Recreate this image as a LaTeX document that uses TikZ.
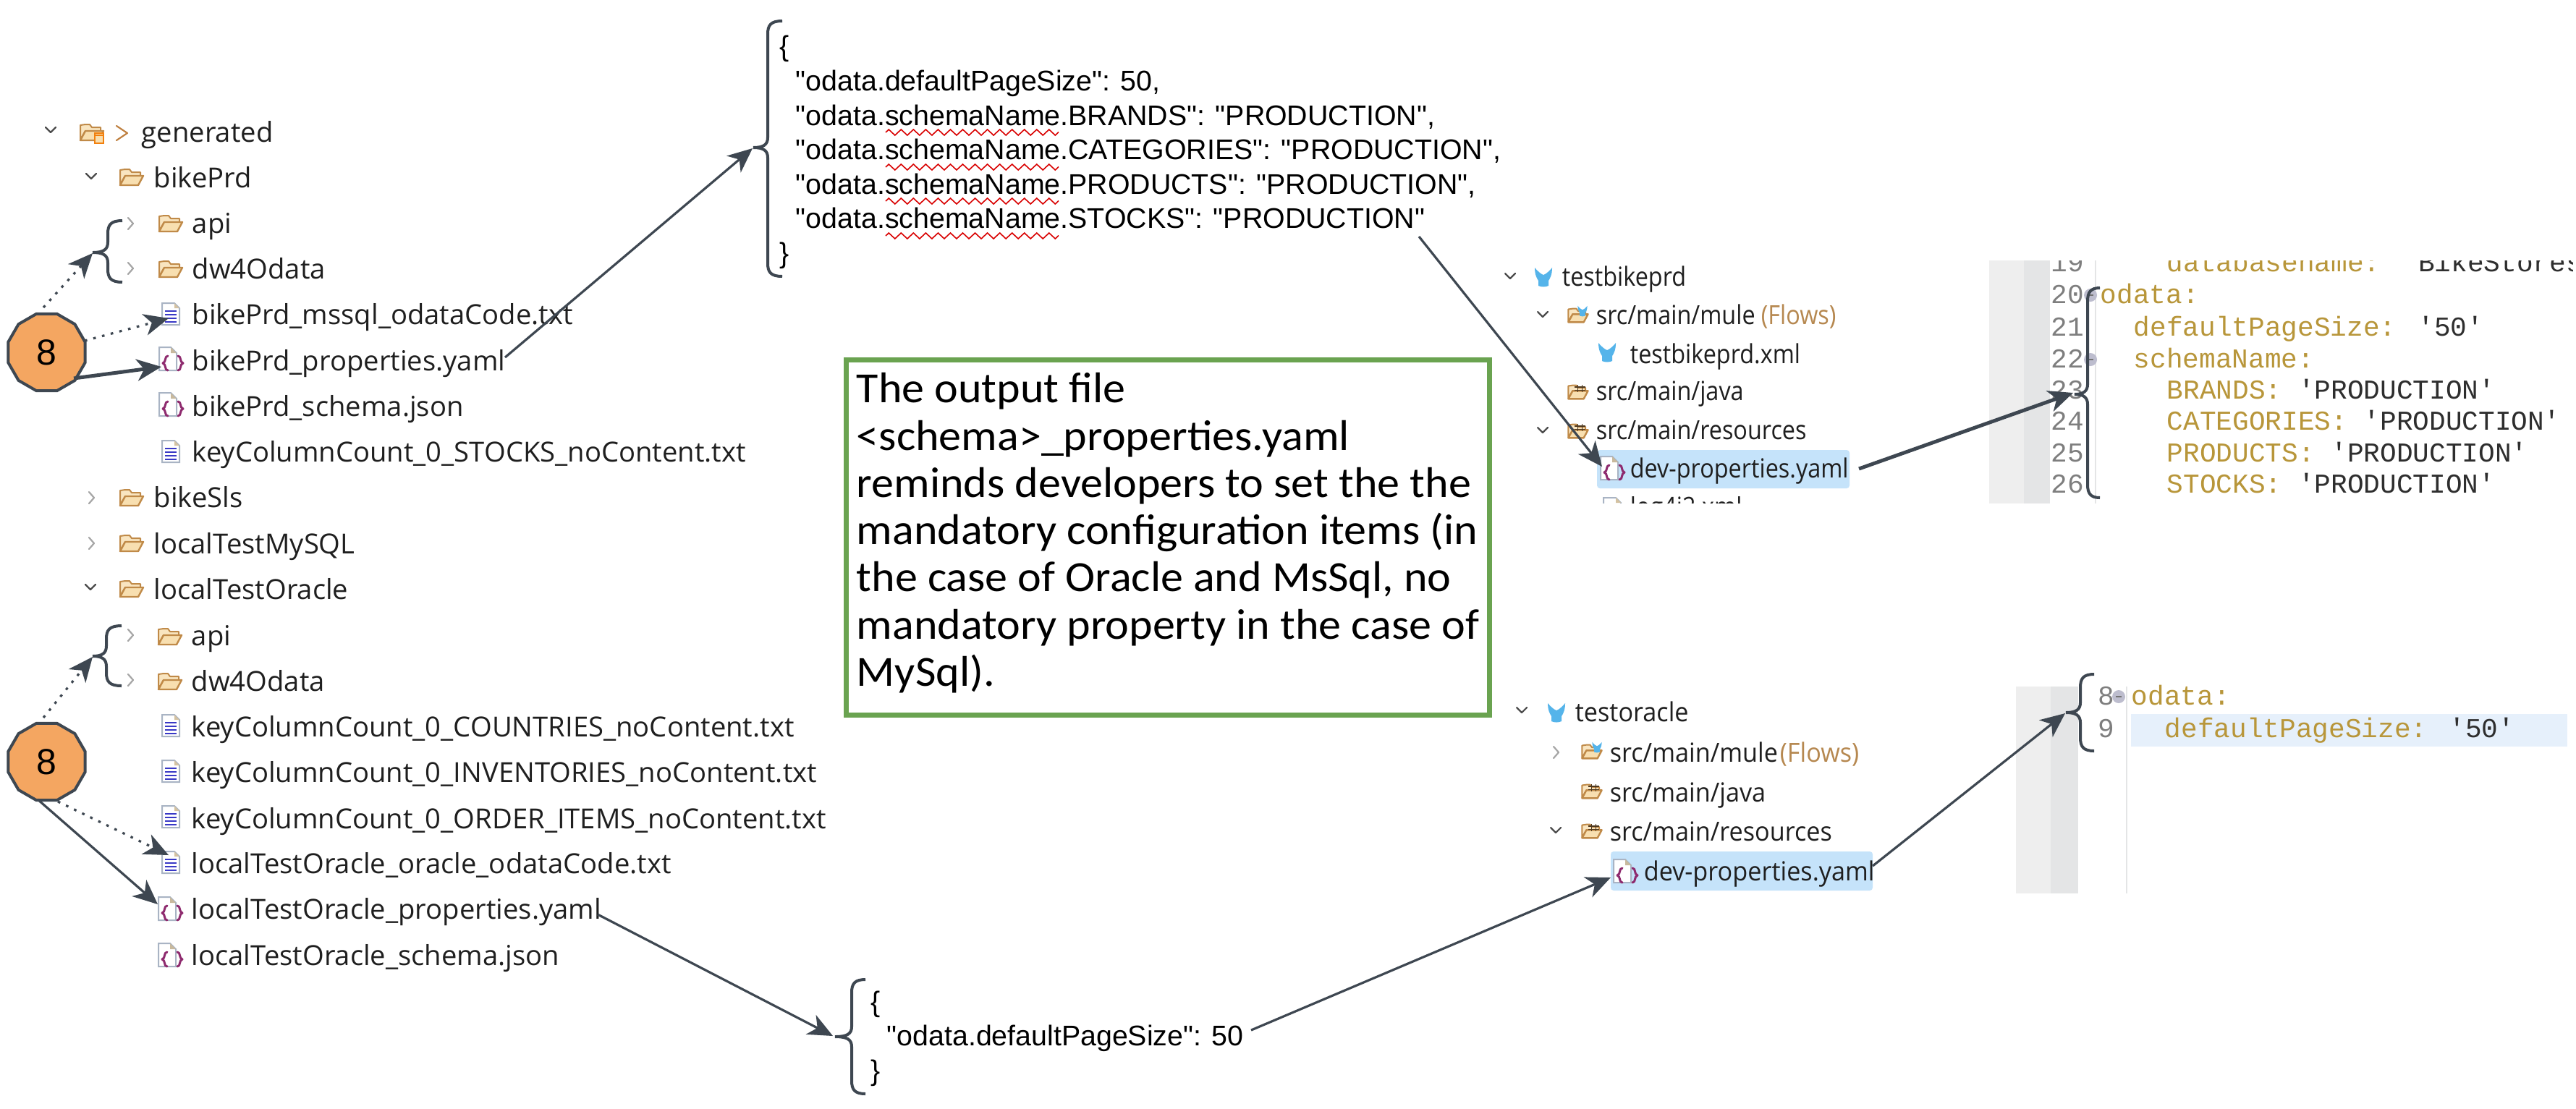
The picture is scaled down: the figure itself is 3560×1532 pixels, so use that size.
\documentclass[tikz,border=0pt]{standalone}
\usepackage{fontspec}
\usetikzlibrary{arrows.meta,shapes.geometric,decorations.pathmorphing}
\setmainfont{Liberation Sans}
\newfontfamily\jsonfont{Liberation Sans}
\newfontfamily\treefont{Open Sans}
\newfontfamily\treefontA[FakeStretch=0.89]{Open Sans}
\newfontfamily\treefontB[FakeStretch=0.94]{Open Sans}
\newfontfamily\notefont[FakeStretch=1.045]{Carlito}
\newfontfamily\codefont{Liberation Mono}
\definecolor{ink}{HTML}{3E4751}
\definecolor{orangefill}{HTML}{F4A661}
\definecolor{boxgreen}{HTML}{6AA350}
\definecolor{keygold}{HTML}{B8963A}
\definecolor{valdark}{HTML}{2E2E2E}
\definecolor{numgray}{HTML}{7E7E7E}
\definecolor{folderedge}{HTML}{C08A48}
\definecolor{folderfill}{HTML}{F8DFB0}
\definecolor{muleblue}{HTML}{55B4EA}
\definecolor{selblue}{HTML}{C5E3FA}
\definecolor{rowblue}{HTML}{E6F0FB}
\definecolor{barA}{HTML}{EEEEEE}
\definecolor{barB}{HTML}{E4E5E6}
\definecolor{jsonpurple}{HTML}{8E2A6E}
\definecolor{docedge}{HTML}{A9B4C4}
\tikzset{
  x=0.25pt,y=-0.25pt,
  treetext/.style={anchor=base west,inner sep=0pt,font=\treefont\fontsize{9.55pt}{11pt}\selectfont,text=black!88},
  uppertext/.style={anchor=base west,inner sep=0pt,font=\treefontA\fontsize{9.1pt}{11pt}\selectfont,text=black!88},
  lowertext/.style={anchor=base west,inner sep=0pt,font=\treefontB\fontsize{9.1pt}{11pt}\selectfont,text=black!88},
  jsontext/.style={anchor=base west,inner sep=0pt,font=\jsonfont\fontsize{9.83pt}{12pt}\selectfont,text=black},
  keytext/.style={anchor=base west,inner sep=0pt,font=\codefont\fontsize{9.44pt}{11pt}\selectfont,text=keygold},
  numtext/.style={anchor=base west,inner sep=0pt,font=\codefont\fontsize{9.44pt}{11pt}\selectfont,text=numgray},
  flowtextA/.style={uppertext,text=folderedge!85!gray},
  flowtextB/.style={lowertext,text=folderedge!85!gray},
  notebox/.style={draw=boxgreen,line width=1.75pt,fill=white},
  stepcircle/.style={regular polygon,regular polygon sides=12,minimum size=27.5pt,inner sep=0pt,draw=ink,line width=1pt,fill=orangefill,font=\fontsize{12.5pt}{14pt}\selectfont},
  conn/.style={draw=ink,line width=0.8pt,-{Stealth[length=8.5pt,width=7.5pt,inset=2.5pt]}},
  connthick/.style={conn,line width=1.25pt},
  conndot/.style={conn,dash pattern=on 0.9pt off 2.2pt,-{Stealth[length=8.5pt,width=7.5pt,inset=2.5pt,sep=0pt]}},
  bracepath/.style={draw=ink,line width=1pt,fill=none},
  chev/.style={line width=0.55pt,line cap=round,line join=round},
  pics/folder/.style={code={
    \draw[folderedge,line width=0.5pt,fill=folderfill!80!white,line join=round] (-16,10) -- (-16,-10) -- (-9,-11) -- (-3,-11) -- (0,-7) -- (12,-7) -- (12,-2) -- (-9,-2) -- cycle;
    \draw[folderedge,line width=0.6pt,fill=folderfill,line join=round] (-16,11) -- (-9,-2) -- (16,-2) -- (9,11) -- cycle;
  }},
  pics/docicon/.style={code={
    \draw[docedge,line width=0.5pt,fill=white] (-12,-15) -- (5,-15) -- (12,-8) -- (12,15) -- (-12,15) -- cycle;
    \fill[folderfill!70!gray] (5,-15) -- (12,-8) -- (5,-8) -- cycle;
    \foreach \ly in {-4,1,6,11}{\draw[blue!55!gray,line width=0.45pt] (-8,\ly) -- (8,\ly);}
  }},
  pics/jsonicon/.style={code={
    \draw[docedge,line width=0.5pt,fill=white] (-16,-17) -- (0,-17) -- (8,-9) -- (8,15) -- (-16,15) -- cycle;
    \fill[folderfill!60!gray] (0,-17) -- (8,-9) -- (0,-9) -- cycle;
    \draw[jsonpurple,line width=0.75pt,line cap=round,line join=round]
      (-4,-5) .. controls (-9,-5) and (-6,4) .. (-11,5) .. controls (-6,6) and (-9,15) .. (-4,15);
    \draw[jsonpurple,line width=0.75pt,line cap=round,line join=round]
      (10,-5) .. controls (15,-5) and (12,4) .. (17,5) .. controls (12,6) and (15,15) .. (10,15);
  }},
  pics/muleicon/.style={code={
    \fill[muleblue] (-12,-13) .. controls (-7,-7) and (-3,-4) .. (0,-3) .. controls (3,-4) and (7,-7) .. (12,-13)
      .. controls (12,-3) and (9,2) .. (7,5) -- (7,12) .. controls (3,14) and (-3,14) .. (-7,12) -- (-7,5) .. controls (-9,2) and (-12,-3) .. (-12,-13) -- cycle;
  }},
  pics/pkgmark/.style={code={
    \draw[black!60!folderedge,line width=0.45pt] (-3,-12) -- (-3,0) (4,-12) -- (4,0) (-8,-8) -- (9,-8) (-8,-3) -- (9,-3);
  }},
  pics/dbmark/.style={code={
    \draw[orange!80!brown,line width=0.5pt,fill=folderfill] (-6,-6) rectangle (6,8);
    \draw[orange!80!brown,line width=0.5pt] (-6,-3) -- (6,-3);
  }},
  pics/foldmark/.style={code={
    \fill[blue!15!gray!45] (0,0) circle (9);
    \draw[black!55,line width=0.35pt] (-4,0) -- (4,0);
  }},
}
\newcommand{\chevdown}[3]{\draw[chev,#3] (#1-7,#2-4) -- (#1,#2+3) -- (#1+7,#2-4);}
\newcommand{\chevright}[3]{\draw[chev,#3] (#1-3,#2-8) -- (#1+4,#2) -- (#1-3,#2+8);}
% top x, top y, spine x, apex x, apex y, bottom y
\newcommand{\openbrace}[6]{\path[bracepath] (#1,#2) .. controls (#3+4,#2) and (#3,#2+6) .. (#3,#2+18) -- (#3,#5-14) .. controls (#3,#5-4) and (#3-6,#5) .. (#4,#5) .. controls (#3-6,#5) and (#3,#5+4) .. (#3,#5+14) -- (#3,#6-18) .. controls (#3,#6-6) and (#3+4,#6) .. (#1,#6);}
\newcommand{\squiggle}[1]{\draw[red!85!black,line width=0.4pt,decorate,decoration={zigzag,segment length=4.26pt,amplitude=1pt}] (1224,#1) -- (1463,#1);}
\begin{document}
\begin{tikzpicture}
\useasboundingbox (0,0) rectangle (3560,1532);
\fill[white] (0,0) rectangle (3560,1532);

% ---------- left tree, upper ----------
\chevdown{70}{180}{black!70}
\pic at (127,183) {folder};
\pic at (137,190) {dbmark};
\draw[chev,orange!50!gray] (161,174) -- (176,184) -- (161,194);
\node[treetext] (tGen) at (195,196) {generated};
\chevdown{126}{244}{black!70}
\pic at (182,245) {folder};
\node[treetext] (tBike) at (212,259) {bikePrd};
\chevright{180}{309}{black!35}
\pic at (236,309) {folder};
\node[treetext] (tApiA) at (265,322) {api};
\chevright{180}{371}{black!35}
\pic at (236,372) {folder};
\node[treetext] (tDwA) at (265,385) {dw4Odata};
\pic at (236,434) {docicon};
\node[treetext] (tMssql) at (265,448) {bikePrd\_mssql\_odataCode.txt};
\pic at (236,497) {jsonicon};
\node[treetext] (tPropA) at (265,512) {bikePrd\_properties.yaml};
\pic at (236,560) {jsonicon};
\node[treetext] (tSchemaA) at (265,575) {bikePrd\_schema.json};
\pic at (236,624) {docicon};
\node[treetext] (tKeyA) at (265,638) {keyColumnCount\_0\_STOCKS\_noContent.txt};
\chevright{126}{688}{black!35}
\pic at (182,688) {folder};
\node[treetext] (tSls) at (212,701) {bikeSls};
\chevright{126}{751}{black!35}
\pic at (182,751) {folder};
\node[treetext] (tMy) at (212,765) {localTestMySQL};
\chevdown{125}{812}{black!70}
\pic at (182,814) {folder};
\node[treetext] (tOra) at (212,828) {localTestOracle};

% ---------- left tree, lower ----------
\chevright{180}{878}{black!35}
\pic at (235,880) {folder};
\node[treetext] (tApiB) at (264,892) {api};
\chevright{180}{940}{black!35}
\pic at (235,942) {folder};
\node[treetext] (tDwB) at (264,955) {dw4Odata};
\pic at (236,1003) {docicon};
\node[treetext] (tKeyB) at (264,1018) {keyColumnCount\_0\_COUNTRIES\_noContent.txt};
\pic at (236,1066) {docicon};
\node[treetext] (tKeyC) at (264,1081) {keyColumnCount\_0\_INVENTORIES\_noContent.txt};
\pic at (236,1129) {docicon};
\node[treetext] (tKeyD) at (264,1145) {keyColumnCount\_0\_ORDER\_ITEMS\_noContent.txt};
\pic at (236,1192) {docicon};
\node[treetext] (tOraCode) at (264,1207) {localTestOracle\_oracle\_odataCode.txt};
\pic at (235,1257) {jsonicon};
\node[treetext] (tPropB) at (264,1270) {localTestOracle\_properties.yaml};
\pic at (235,1321) {jsonicon};
\node[treetext] (tSchemaB) at (264,1334) {localTestOracle\_schema.json};

% ---------- JSON, top ----------
\node[jsontext] (jOpen) at (1077,77) {\{};
\node[jsontext] (jA) at (1099,125) {"odata.defaultPageSize": 50,};
\node[jsontext] (jB) at (1099,173) {"odata.schemaName.BRANDS": "PRODUCTION",};
\node[jsontext] (jC) at (1099,220) {"odata.schemaName.CATEGORIES": "PRODUCTION",};
\node[jsontext] (jD) at (1099,268) {"odata.schemaName.PRODUCTS": "PRODUCTION",};
\node[jsontext] (jE) at (1099,315) {"odata.schemaName.STOCKS": "PRODUCTION"};
\node[jsontext] (jClose) at (1077,363) {\}};
\squiggle{183}\squiggle{231}\squiggle{278}\squiggle{326}

% ---------- JSON, bottom ----------
\node[jsontext] (kOpen) at (1203,1398) {\{};
\node[jsontext] (kA) at (1225,1445) {"odata.defaultPageSize": 50};
\node[jsontext] (kClose) at (1203,1493) {\}};

% ---------- note ----------
\node[notebox,minimum width=222.25pt,minimum height=122.75pt,anchor=north west,inner sep=0pt] (note) at (1166,494) {};
\begin{scope}[every node/.style={anchor=base west,inner sep=0pt,font=\notefont\fontsize{14.85pt}{16pt}\selectfont}]
\node (n1) at (1183,556) {The output file};
\node (n2) at (1183,622) {<schema>\_properties.yaml};
\node (n3) at (1183,687) {reminds developers to set the the};
\node (n4) at (1183,752) {mandatory configuration items (in};
\node (n5) at (1183,817) {the case of Oracle and MsSql, no};
\node (n6) at (1183,883) {mandatory property in the case of};
\node (n7) at (1183,948) {MySql).};
\end{scope}

% ---------- right tree, upper ----------
\chevdown{2087}{382}{black!70}
\pic at (2133,383) {muleicon};
\node[uppertext] (rBike) at (2158,395) {testbikeprd};
\chevdown{2132}{435}{black!70}
\pic[scale=0.85] at (2181,436) {folder};
\pic[scale=0.55] at (2187,430) {muleicon};
\node[uppertext] (rMule) at (2205,448) {src/main/mule};
\node[flowtextA] (rFlow) at (2433,448) {(Flows)};
\pic at (2221,487) {muleicon};
\node[uppertext] (rXml) at (2252,502) {testbikeprd.xml};
\pic[scale=0.85] at (2181,542) {folder};
\pic[scale=0.85] at (2183,542) {pkgmark};
\node[uppertext] (rJava) at (2205,553) {src/main/java};
\chevdown{2132}{595}{black!70}
\pic[scale=0.85] at (2181,596) {folder};
\pic[scale=0.85] at (2183,596) {pkgmark};
\node[uppertext] (rRes) at (2205,607) {src/main/resources};
\fill[selblue,rounded corners=1pt] (2207,622) rectangle (2556,675);
\pic at (2228,648) {jsonicon};
\node[uppertext] (rDev) at (2252,660) {dev-properties.yaml};
\begin{scope}
\clip (2200,686) rectangle (2560,695);
\pic at (2228,703) {docicon};
\node[uppertext] (rLog) at (2252,713) {log4j2.xml};
\end{scope}

% ---------- editor, upper ----------
\fill[barA] (2749,360) rectangle (2797,696);
\fill[barB] (2797,360) rectangle (2833,696);
\draw[barB,line width=0.4pt] (2896,360) -- (2896,696);
\begin{scope}
\clip (2700,360) rectangle (3555,696);
\node[numtext] (e19) at (2834,375) {19};
\node[keytext] (eDb) at (2994,375) {databasename: \textcolor{valdark}{'BikeStores}};
\end{scope}
\node[numtext] (e20) at (2834,419) {20};
\pic at (2889,408) {foldmark};
\node[keytext] (eOd) at (2902,419) {odata:};
\node[numtext] (e21) at (2834,464) {21};
\node[keytext] (eDef) at (2948,464) {defaultPageSize: \textcolor{valdark}{'50'}};
\node[numtext] (e22) at (2834,508) {22};
\pic at (2889,497) {foldmark};
\node[keytext] (eSch) at (2948,508) {schemaName:};
\node[numtext] (e23) at (2834,551) {23};
\node[keytext] (eBr) at (2994,551) {BRANDS: \textcolor{valdark}{'PRODUCTION'}};
\node[numtext] (e24) at (2834,594) {24};
\node[keytext] (eCa) at (2994,594) {CATEGORIES: \textcolor{valdark}{'PRODUCTION'}};
\node[numtext] (e25) at (2834,638) {25};
\node[keytext] (ePr) at (2994,638) {PRODUCTS: \textcolor{valdark}{'PRODUCTION'}};
\node[numtext] (e26) at (2834,681) {26};
\node[keytext] (eSt) at (2994,681) {STOCKS: \textcolor{valdark}{'PRODUCTION'}};

% ---------- right tree, lower ----------
\chevdown{2103}{982}{black!70}
\pic at (2151,985) {muleicon};
\node[lowertext] (sOra) at (2176,997) {testoracle};
\chevright{2150}{1040}{black!35}
\pic[scale=0.85] at (2200,1039) {folder};
\pic[scale=0.55] at (2207,1033) {muleicon};
\node[lowertext] (sMule) at (2224,1053) {src/main/mule};
\node[flowtextB] (sFlow) at (2459,1053) {(Flows)};
\pic[scale=0.85] at (2200,1094) {folder};
\pic[scale=0.85] at (2202,1094) {pkgmark};
\node[lowertext] (sJava) at (2224,1108) {src/main/java};
\chevdown{2150}{1148}{black!70}
\pic[scale=0.85] at (2200,1149) {folder};
\pic[scale=0.85] at (2202,1149) {pkgmark};
\node[lowertext] (sRes) at (2224,1162) {src/main/resources};
\fill[selblue,rounded corners=1pt] (2226,1177) rectangle (2588,1231);
\pic at (2246,1205) {jsonicon};
\node[lowertext] (sDev) at (2271,1217) {dev-properties.yaml};

% ---------- editor, lower ----------
\fill[barA] (2786,949) rectangle (2834,1235);
\fill[barB] (2834,949) rectangle (2872,1235);
\draw[barB,line width=0.4pt] (2939,949) -- (2939,1235);
\fill[rowblue] (2945,987) rectangle (3548,1032);
\node[numtext] (f8) at (2899,974) {8};
\pic at (2928,963) {foldmark};
\node[keytext] (fOd) at (2945,974) {odata:};
\node[numtext] (f9) at (2899,1019) {9};
\node[keytext] (fDef) at (2991,1019) {defaultPageSize: \textcolor{valdark}{'50'}};

% ---------- step markers ----------
\node[stepcircle] (stepA) at (64.5,487) {8};
\node[stepcircle] (stepB) at (64.5,1053) {8};

% ---------- braces ----------
\openbrace{169}{305}{149}{128}{349}{390}
\openbrace{168}{865}{147}{128}{907}{948}
\openbrace{1081}{29}{1061}{1041}{204}{382}
\openbrace{1196}{1354}{1177}{1154}{1433}{1512}
\openbrace{2902}{398}{2885}{2867}{545}{688}
\openbrace{2894}{932}{2875}{2855}{985}{1038}

% ---------- connector anchors ----------
\coordinate (aStartDotUp) at (60,425);
\coordinate (aTipDotUp) at (128,350);
\coordinate (aStartDotTxt) at (117,471);
\coordinate (aTipDotTxt) at (233,440);
\coordinate (aStartSolid) at (102,523);
\coordinate (aTipSolid) at (223,507);
\coordinate (aYaml) at (698,494);
\coordinate (aBrace) at (1040,205);
\coordinate (aStocks) at (1961,327);
\coordinate (aDevTip) at (2214,645);
\coordinate (aDevOut) at (2569,648);
\coordinate (aEdTip) at (2865,543);
\coordinate (bStartDotUp) at (60,992);
\coordinate (bTipDotUp) at (128,908);
\coordinate (bStartDotTxt) at (80,1108);
\coordinate (bTipDotTxt) at (233,1182);
\coordinate (bStartSolid) at (52,1105);
\coordinate (bTipSolid) at (218,1250);
\coordinate (bYaml) at (826,1264);
\coordinate (bBrace) at (1151,1432);
\coordinate (bFifty) at (1729,1424);
\coordinate (bDevTip) at (2226,1213);
\coordinate (bDevOut) at (2588,1197);
\coordinate (bEdTip) at (2854,986);

% ---------- connectors ----------
\draw[conndot] (aStartDotUp) -- (aTipDotUp);
\draw[conndot] (aStartDotTxt) -- (aTipDotTxt);
\draw[connthick] (aStartSolid) -- (aTipSolid);
\draw[conn] (aYaml) -- (aBrace);
\draw[conn] (aStocks) -- (aDevTip);
\draw[connthick] (aDevOut) -- (aEdTip);
\draw[conndot] (bStartDotUp) -- (bTipDotUp);
\draw[conndot] (bStartDotTxt) -- (bTipDotTxt);
\draw[conn] (bStartSolid) -- (bTipSolid);
\draw[conn] (bYaml) -- (bBrace);
\draw[conn] (bFifty) -- (bDevTip);
\draw[conn] (bDevOut) -- (bEdTip);
\end{tikzpicture}
\end{document}
